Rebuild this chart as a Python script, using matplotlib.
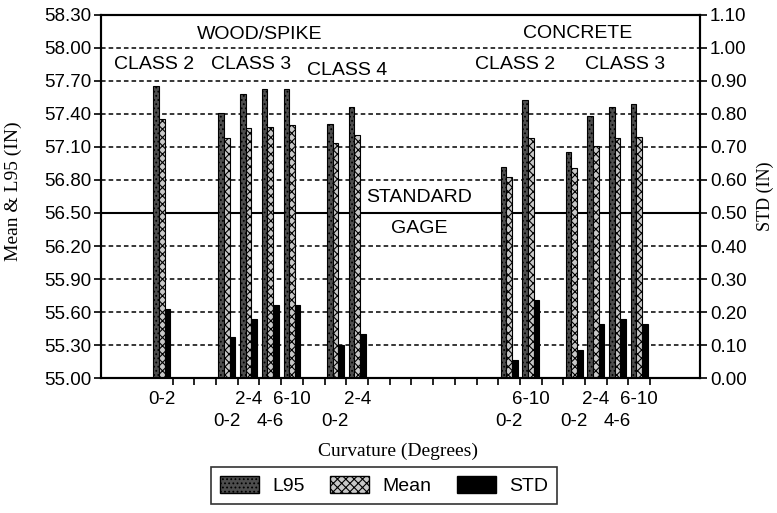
import numpy as np
import matplotlib
matplotlib.use('Agg')
import matplotlib.pyplot as plt
from matplotlib.patches import Patch

plt.rcParams['font.family'] = ['Liberation Sans', 'DejaVu Sans']
plt.rcParams['hatch.linewidth'] = 0.8

nan = np.nan

# one slot per category on the x axis (empty slots have no data)
curvature = ['0-2', '', '', '0-2', '2-4', '4-6', '6-10', '', '0-2', '2-4',
             '', '', '', '', '', '', '0-2', '6-10', '', '0-2', '2-4', '4-6', '6-10']
l95 = [57.65, nan, nan, 57.41, 57.58, 57.63, 57.63, nan, 57.31, 57.46,
       nan, nan, nan, nan, nan, nan, 56.92, 57.53, nan, 57.05, 57.38, 57.46, 57.49]
mean = [57.35, nan, nan, 57.18, 57.27, 57.28, 57.30, nan, 57.14, 57.21,
        nan, nan, nan, nan, nan, nan, 56.83, 57.18, nan, 56.91, 57.11, 57.18, 57.19]
std = [0.21, nan, nan, 0.125, 0.18, 0.22, 0.22, nan, 0.10, 0.135,
       nan, nan, nan, nan, nan, nan, 0.055, 0.235, nan, 0.085, 0.165, 0.18, 0.165]

standard_gage = 56.50
left_ticks = np.arange(55.0, 58.31, 0.30)
right_ticks = np.arange(0.0, 1.101, 0.10)

x = np.arange(len(curvature))
w = 0.26
l95_style = dict(facecolor='#4d4d4d', edgecolor='black', hatch='....')
mean_style = dict(facecolor='#c8c8c8', edgecolor='black', hatch='xxxx')
std_style = dict(facecolor='black', edgecolor='black')

fig = plt.figure(figsize=(7.77, 5.13), dpi=100)
ax = fig.add_axes([0.130, 0.263, 0.771, 0.708])
ax2 = ax.twinx()

# grid and standard gage line behind the bars
for t in left_ticks[1:-1]:
    ax.axhline(t, color='black', lw=1.1, ls=(0, (3, 2)), zorder=0.5)
ax.axhline(standard_gage, color='black', lw=1.5, zorder=0.6)

ax.bar(x - w, np.array(l95) - 55.0, w, bottom=55.0, lw=0.8, zorder=2, **l95_style)
ax.bar(x, np.array(mean) - 55.0, w, bottom=55.0, lw=0.8, zorder=2, **mean_style)
ax2.bar(x + w, std, w, lw=0.8, zorder=2, **std_style)

ax.set_xlim(-2.8, 24.8)
ax.set_ylim(55.0, 58.30)
ax2.set_ylim(0.0, 1.10)
ax.set_yticks(left_ticks)
ax.set_yticklabels(['%.2f' % t for t in left_ticks])
ax2.set_yticks(right_ticks)
ax2.set_yticklabels(['%.2f' % t for t in right_ticks])

# tick marks at slot boundaries, staggered labels at slot centres
ax.set_xticks(np.arange(0.5, len(curvature)))
ax.set_xticklabels([])
ax.tick_params(axis='x', length=5, width=1.2, direction='out')
lab_pos = [i for i, c in enumerate(curvature) if c]
for k, i in enumerate(lab_pos):
    ax.text(i, -0.058 if k % 2 == 0 else -0.119, curvature[i], fontsize=13.5,
            ha='center', va='center', transform=ax.get_xaxis_transform())

ax.tick_params(axis='y', length=5, width=1.2, pad=2, labelsize=13.5)
ax2.tick_params(axis='y', length=5, width=1.2, pad=2, labelsize=13.5)

for a in (ax, ax2):
    for s in a.spines.values():
        s.set_linewidth(1.5)

serif = ['Liberation Serif', 'DejaVu Serif']
ax.set_ylabel('Mean & L95 (IN)', family=serif, fontsize=14)
ax.yaxis.set_label_coords(-0.132, 0.515)
ax2.set_ylabel('STD (IN)', family=serif, fontsize=13, rotation=90)
ax2.yaxis.set_label_coords(1.094, 0.50)
ax.set_xlabel('Curvature (Degrees)', family=serif, fontsize=14)
ax.xaxis.set_label_coords(0.496, -0.178)

# group headings
kw = dict(ha='center', va='center', fontsize=14, transform=ax.transAxes)
ax.text(0.264, 0.945, 'WOOD/SPIKE', **kw)
ax.text(0.088, 0.862, 'CLASS 2', **kw)
ax.text(0.250, 0.862, 'CLASS 3', **kw)
ax.text(0.411, 0.848, 'CLASS 4', **kw)
ax.text(0.796, 0.950, 'CONCRETE', **kw)
ax.text(0.691, 0.862, 'CLASS 2', **kw)
ax.text(0.875, 0.862, 'CLASS 3', **kw)
ax.text(0.531, 0.498, 'STANDARD', **kw)
ax.text(0.531, 0.413, 'GAGE', **kw)

handles = [Patch(label='L95', **l95_style),
           Patch(label='Mean', **mean_style),
           Patch(label='STD', **std_style)]
leg = fig.legend(handles=handles, ncol=3, loc='upper center',
                 bbox_to_anchor=(384 / 777, 1 - 467 / 513), fontsize=14,
                 frameon=True, fancybox=False, edgecolor='black',
                 handlelength=2.0, handleheight=0.95, columnspacing=1.3,
                 handletextpad=0.7, borderpad=0.45, borderaxespad=0)
leg.get_frame().set_linewidth(1.2)

fig.savefig('out.png', dpi=100)
